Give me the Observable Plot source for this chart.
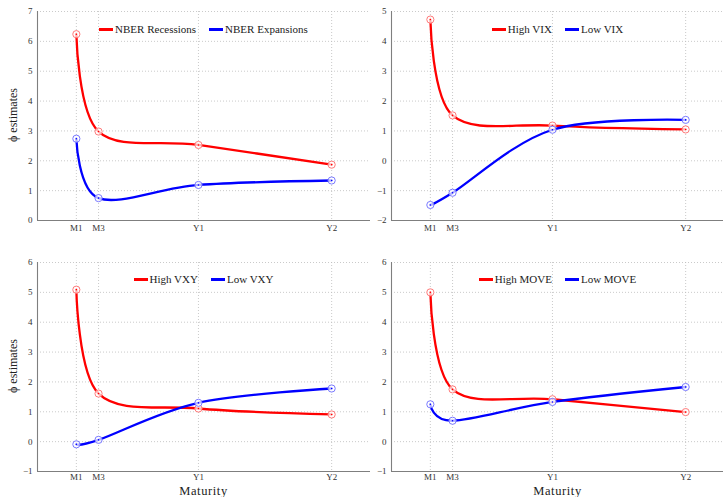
<!DOCTYPE html>
<html>
<head>
<meta charset="utf-8">
<script src="https://cdn.jsdelivr.net/npm/d3@7"></script>
<script src="https://cdn.jsdelivr.net/npm/@observablehq/plot@0.6"></script>
<style>
  html, body { margin: 0; padding: 0; background: #fff; }
  #wrap { position: relative; width: 723px; height: 497px; overflow: hidden; font-family: "Liberation Serif", "Times New Roman", serif; }
  .panel { position: absolute; }
  .legend { position: absolute; display: flex; justify-content: center; align-items: center; gap: 13px; font-size: 11px; color: #222; white-space: nowrap; }
  .legend .item { display: flex; align-items: center; gap: 2px; }
  .legend .sw { display: inline-block; width: 14px; height: 3px; }
  .ylab { position: absolute; font-size: 12px; color: #222; transform: translate(-50%, -50%) rotate(-90deg); white-space: nowrap; }
  .xlab { position: absolute; font-size: 12.5px; line-height: 12px; height: 12px; color: #222; letter-spacing: 0.6px; transform: translate(-50%, -50%); white-space: nowrap; }
</style>
</head>
<body>
<div id="wrap"></div>
<script>
// Maturities (x positions in months) and tick labels
const maturityLabels = ["M1", "M3", "Y1", "Y2"];
const maturityMonths = [1, 3, 12, 24];

// Series values (phi estimates)
const nberRecessions = [6.24, 2.98, 2.53, 1.87];
const nberExpansions = [2.74, 0.75, 1.19, 1.34];
const highVIX = [4.73, 1.52, 1.18, 1.05];
const lowVIX = [-1.48, -1.07, 1.04, 1.37];
const highVXY = [5.09, 1.61, 1.11, 0.91];
const lowVXY = [-0.09, 0.06, 1.30, 1.78];
const highMOVE = [5.00, 1.75, 1.42, 0.99];
const lowMOVE = [1.25, 0.70, 1.33, 1.83];

// Y ticks per panel
const yTicksTL = [0, 1, 2, 3, 4, 5, 6, 7];
const yTicksTR = [-2, -1, 0, 1, 2, 3, 4, 5];
const yTicksB = [-1, 0, 1, 2, 3, 4, 5, 6];

const seriesNames = {
  tl: ["NBER Recessions", "NBER Expansions"],
  tr: ["High VIX", "Low VIX"],
  bl: ["High VXY", "Low VXY"],
  br: ["High MOVE", "Low MOVE"]
};

const RED = "#ff0000", BLUE = "#0000ff";
const RED_L = "#ff7a7a", BLUE_L = "#7a7aff";
const X_DOMAIN = [-2.5, 27.5];

function toRows(vals) {
  return vals.map((v, i) => ({ m: maturityMonths[i], v }));
}

function panel({ high, low, yTicks, height, marginTop, marginBottom, xPad }) {
  const hi = toRows(high), lo = toRows(low);
  const yDomain = [yTicks[0], yTicks[yTicks.length - 1]];
  const grid = { stroke: "#bdbdbd", strokeOpacity: 1, strokeDasharray: "1,2", strokeWidth: 0.8 };
  return Plot.plot({
    width: 400, height,
    marginLeft: 37, marginRight: 30, marginTop, marginBottom,
    style: { fontFamily: "'Liberation Serif', 'Times New Roman', serif", fontSize: "9px", color: "#333", background: "transparent", overflow: "visible" },
    x: { type: "linear", domain: X_DOMAIN },
    y: { domain: yDomain },
    marks: [
      Plot.gridX(maturityMonths, grid),
      Plot.gridY(yTicks, grid),
      Plot.ruleY([yDomain[0]], { stroke: "#7f7f7f", strokeWidth: 1.1 }),
      Plot.ruleX([X_DOMAIN[0]], { stroke: "#7f7f7f", strokeWidth: 1.1 }),
      Plot.axisX(maturityMonths, { tickSize: 0, tickPadding: xPad, label: null, tickFormat: d => maturityLabels[maturityMonths.indexOf(d)] }),
      Plot.axisY(yTicks, { tickSize: 0, tickPadding: 5, label: null, tickFormat: d => d < 0 ? "\u2212" + Math.abs(d) : String(d) }),
      Plot.line(hi, { x: "m", y: "v", curve: "cardinal", stroke: RED, strokeWidth: 2.3 }),
      Plot.line(lo, { x: "m", y: "v", curve: "cardinal", stroke: BLUE, strokeWidth: 2.3 }),
      Plot.dot(hi, { x: "m", y: "v", r: 3.6, stroke: RED_L, strokeWidth: 1, fill: "white", fillOpacity: 0.7 }),
      Plot.dot(hi, { x: "m", y: "v", r: 0.8, fill: RED }),
      Plot.dot(lo, { x: "m", y: "v", r: 3.6, stroke: BLUE_L, strokeWidth: 1, fill: "white", fillOpacity: 0.7 }),
      Plot.dot(lo, { x: "m", y: "v", r: 0.8, fill: BLUE })
    ]
  });
}

const wrap = document.getElementById("wrap");

function place(el, left, top) {
  el.classList.add("panel");
  el.style.left = left + "px";
  el.style.top = top + "px";
  wrap.appendChild(el);
}

function legend(names, centerX, centerY) {
  const d = document.createElement("div");
  d.className = "legend";
  d.style.left = (centerX - 150) + "px";
  d.style.width = "300px";
  d.style.top = (centerY - 7) + "px";
  d.style.height = "14px";
  [[names[0], RED], [names[1], BLUE]].forEach(([n, c]) => {
    const it = document.createElement("span");
    it.className = "item";
    const sw = document.createElement("span");
    sw.className = "sw";
    sw.style.background = c;
    const t = document.createElement("span");
    t.textContent = n;
    it.appendChild(sw); it.appendChild(t);
    d.appendChild(it);
  });
  wrap.appendChild(d);
}

function label(cls, text, x, y) {
  const d = document.createElement("div");
  d.className = cls;
  d.textContent = text;
  d.style.left = x + "px";
  d.style.top = y + "px";
  wrap.appendChild(d);
}

place(panel({ high: nberRecessions, low: nberExpansions, yTicks: yTicksTL, height: 250, marginTop: 11, marginBottom: 30, xPad: 4 }), 0, 0);
place(panel({ high: highVIX, low: lowVIX, yTicks: yTicksTR, height: 250, marginTop: 11, marginBottom: 30, xPad: 4 }), 354, 0);
place(panel({ high: highVXY, low: lowVXY, yTicks: yTicksB, height: 247, marginTop: 12, marginBottom: 26, xPad: 2 }), 0, 250);
place(panel({ high: highMOVE, low: lowMOVE, yTicks: yTicksB, height: 247, marginTop: 12, marginBottom: 26, xPad: 2 }), 354, 250);

legend(seriesNames.tl, 203.5, 29);
legend(seriesNames.tr, 557.5, 29);
legend(seriesNames.bl, 203.5, 279);
legend(seriesNames.br, 557.5, 279);

label("ylab", "\u03D5 estimates", 13, 115);
label("ylab", "\u03D5 estimates", 13, 366);
label("xlab", "Maturity", 203.5, 490.5);
label("xlab", "Maturity", 557.5, 490.5);
</script>
</body>
</html>
